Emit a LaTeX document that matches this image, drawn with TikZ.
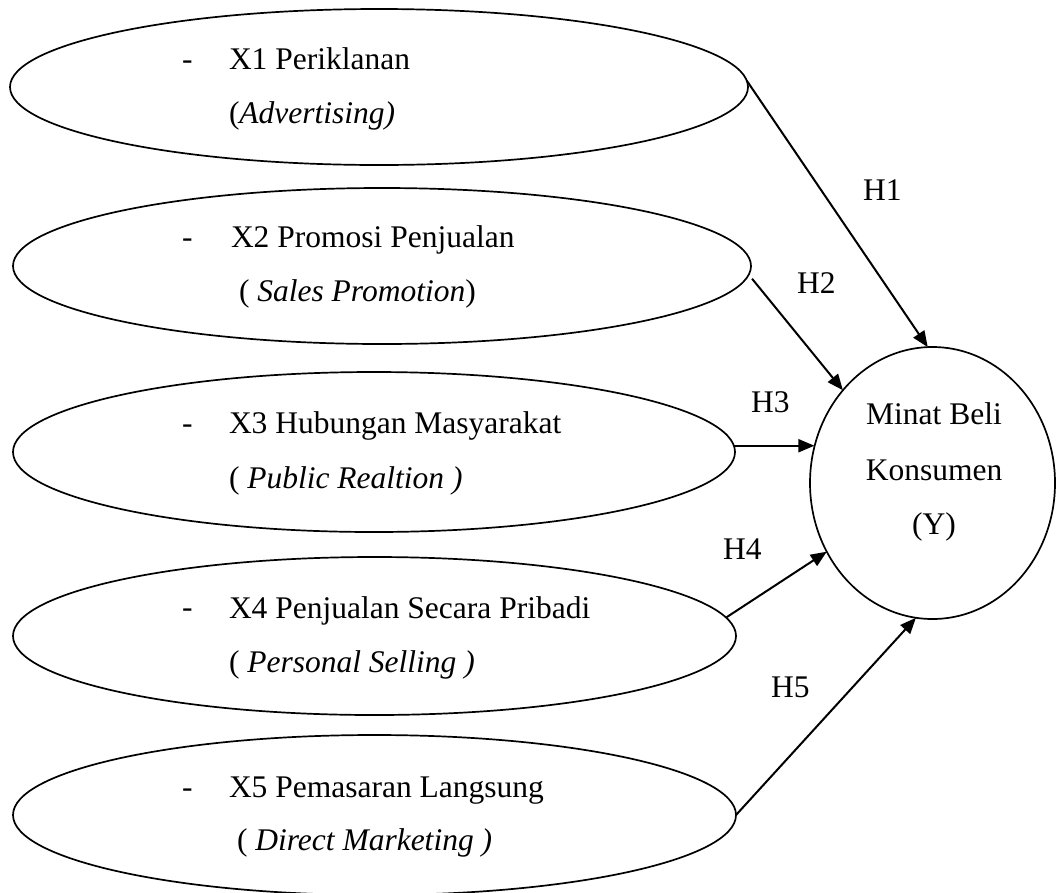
\documentclass[tikz,border=0pt]{standalone}
\usepackage{fontspec}
\setmainfont{Liberation Serif}
\usetikzlibrary{shapes.geometric,arrows.meta}
\begin{document}
\begin{tikzpicture}[x=1pt,y=-1pt,
  oval/.style={draw,line width=1.7pt,ellipse,inner sep=0pt,outer sep=0pt},
  txt/.style={anchor=base west,inner sep=0pt,outer sep=0pt,font=\fontsize{31.5}{38}\selectfont},
  ctxt/.style={anchor=base,inner sep=0pt,outer sep=0pt,font=\fontsize{31.5}{38}\selectfont},
  conn/.style={line width=2pt,-{Triangle[length=16pt,width=13pt]}}]
\useasboundingbox (0,0) rectangle (1056,892);
% ellipses
\node[oval,minimum width=738pt,minimum height=156pt] (e1) at (379,87) {};
\node[oval,minimum width=738pt,minimum height=156pt] (e2) at (382,266) {};
\node[oval,minimum width=722pt,minimum height=160pt] (e3) at (374,452) {};
\node[oval,minimum width=723pt,minimum height=158pt] (e4) at (374.5,636) {};
\node[oval,minimum width=723pt,minimum height=160pt] (e5) at (374.5,815) {};
\node[oval,minimum width=245pt,minimum height=272pt] (y) at (932.5,483) {};
% ellipse texts
\node[txt] (d1) at (182,69) {-};
\node[txt] (t1a) at (229,69) {X1 Periklanan};
\node[txt] (t1b) at (229,123) {(\textit{Advertising)}};
\node[txt] (d2) at (182,247) {-};
\node[txt] (t2a) at (231,247) {X2 Promosi Penjualan};
\node[txt] (t2b) at (239,301) {( \textit{Sales Promotion})};
\node[txt] (d3) at (182,433) {-};
\node[txt] (t3a) at (229,433) {X3 Hubungan Masyarakat};
\node[txt] (t3b) at (229,488) {( \textit{Public Realtion )}};
\node[txt] (d4) at (182,617) {-};
\node[txt] (t4a) at (229,618) {X4 Penjualan Secara Pribadi};
\node[txt] (t4b) at (229,672) {( \textit{Personal Selling )}};
\node[txt] (d5) at (182,797) {-};
\node[txt] (t5a) at (229,797) {X5 Pemasaran Langsung};
\node[txt] (t5b) at (237,850) {( \textit{Direct Marketing )}};
% circle text
\node[ctxt] (y1) at (934,424) {Minat Beli};
\node[ctxt] (y2) at (934,480) {Konsumen};
\node[ctxt] (y3) at (934,534) {(Y)};
% labels
\node[txt] (h1) at (863,200) {H1};
\node[txt] (h2) at (797,293) {H2};
\node[txt] (h3) at (751,412) {H3};
\node[txt] (h4) at (723,559) {H4};
\node[txt] (h5) at (771,697) {H5};
% connectors
\draw[conn] (e1.1) -- (y.92.7);
\draw[conn] ([xshift=6pt]e2.-2.3) -- (y.134);
\draw[conn] (e3.1) -- (e3.1 -| y.163);
\draw[conn] (e4.3.2) -- (y.213.6);
\draw[conn] (e5.east) -- (y.263.8);
\end{tikzpicture}
\end{document}
